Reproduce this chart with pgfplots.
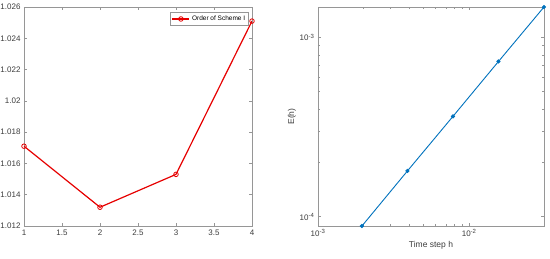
\documentclass[border=0pt]{standalone}
\usepackage{fontspec}
\setmainfont{Liberation Sans}
\usepackage{pgfplots}
\pgfplotsset{compat=1.18}
\definecolor{mlRed}{RGB}{230,0,0}
\definecolor{mlBlue}{RGB}{0,114,189}
\definecolor{mlAxis}{RGB}{150,150,150}
\definecolor{mlText}{RGB}{60,60,60}

\pgfplotsset{
  mlstyle/.style={
    scale only axis,
    axis line style={mlAxis,line width=0.6pt},
    tick style={mlAxis,line width=0.5pt},
    tick align=inside,
    major tick length=3pt,
    minor tick length=1.6pt,
    ticklabel style={font=\fontsize{8}{9}\selectfont,color=mlText},
    label style={font=\fontsize{8.5}{9}\selectfont,color=mlText},
    /pgf/number format/assume math mode=true,
  },
}

\begin{document}
\begin{tikzpicture}
\begin{axis}[
  mlstyle,
  at={(0pt,0pt)}, anchor=south west,
  width=228pt, height=219pt,
  xmin=1, xmax=4, ymin=1.012, ymax=1.026,
  xtick={1,1.5,2,2.5,3,3.5,4},
  ytick={1.012,1.014,1.016,1.018,1.02,1.022,1.024,1.026},
  yticklabel style={/pgf/number format/fixed,/pgf/number format/precision=3},
  xticklabel style={/pgf/number format/fixed,/pgf/number format/precision=1},
  legend style={at={(0.985,0.975)},anchor=north east,
    font=\fontsize{6.5}{7.5}\selectfont,draw=mlAxis,fill=white,
    inner sep=1.2pt,text=black},
  legend cell align=left,
]
\addplot[mlRed,line width=1.2pt,mark=o,mark size=2.3pt,mark options={line width=0.8pt}]
  coordinates {(1,1.0171)(2,1.0132)(3,1.0153)(4,1.0251)};
\addlegendentry{Order of Scheme I}
\end{axis}

\begin{loglogaxis}[
  mlstyle,
  at={(294pt,0pt)}, anchor=south west,
  width=226pt, height=219pt,
  xmin=0.001, xmax=0.03125, ymin=8.87e-5, ymax=1.48e-3,
  xtick={0.001,0.01}, xticklabels={10\textsuperscript{-3},10\textsuperscript{-2}},
  ytick={1e-4,1e-3}, yticklabels={10\textsuperscript{-4},10\textsuperscript{-3}},
  xlabel={Time step h}, ylabel={E(h)},
  xlabel style={yshift=2pt},
  ylabel style={yshift=-3pt},
]
\addplot[mlBlue,line width=0.9pt,mark=*,mark size=1.6pt]
  coordinates {(0.001953125,8.87e-5)(0.00390625,1.80e-4)(0.0078125,3.63e-4)(0.015625,7.35e-4)(0.03125,1.48e-3)};
\end{loglogaxis}
\pgfresetboundingbox
\useasboundingbox (-24pt,-32pt) rectangle (526pt,226pt);
\end{tikzpicture}
\end{document}
